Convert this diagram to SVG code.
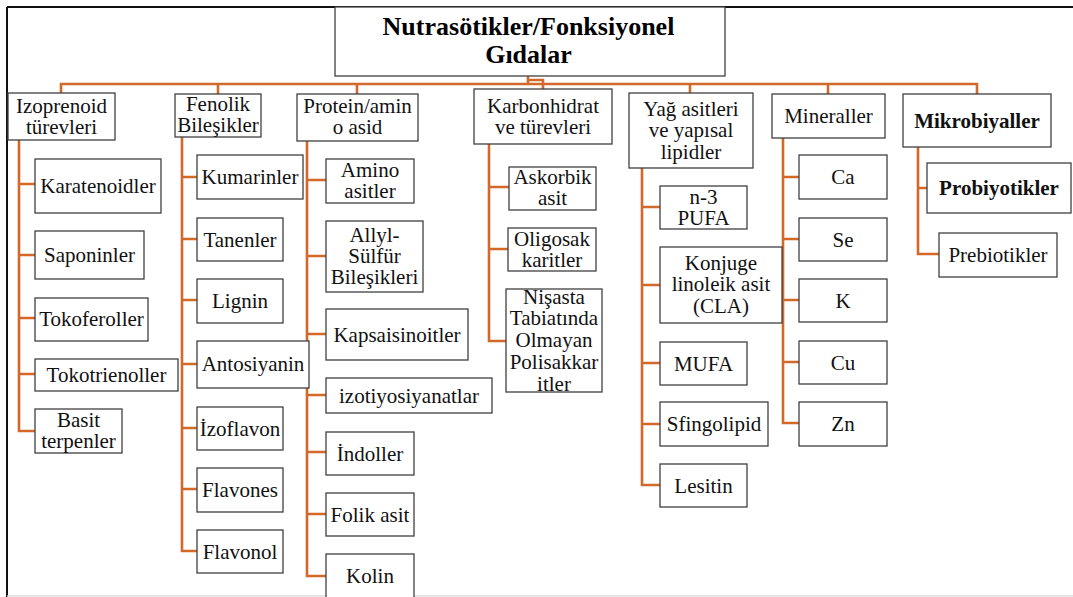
<svg xmlns="http://www.w3.org/2000/svg" width="1073" height="597" viewBox="0 0 1073 597">
<style>
.b{fill:#fff;stroke:#404040;stroke-width:1.3}
text{font-family:'Liberation Serif','Times New Roman',Times,serif}
.t{font-size:21px;fill:#111;text-anchor:middle}
.bd{font-weight:bold}
.ttl{font-size:26px;font-weight:bold;fill:#000;text-anchor:middle}
.c{fill:none;stroke:#D2692A;stroke-width:2.6}
</style>
<rect x="0" y="0" width="1073" height="597" fill="#fff"/>
<line x1="7" y1="7" x2="1073" y2="7" stroke="#111" stroke-width="2"/>
<line x1="7" y1="7" x2="7" y2="597" stroke="#111" stroke-width="2"/>
<line x1="7" y1="596" x2="1073" y2="596" stroke="#ddd" stroke-width="1.5"/>

<g id="connectors">
<path class="c" d="M61,93 V84 H977 V94"/>
<path class="c" d="M218,84 V94 M357,84 V94 M690,84 V93 M828,84 V94"/>
<path class="c" d="M528,76 V84 M528,80 H543 V89"/>
<path class="c" d="M19,140 V431 H35 M19,184 H35 M19,255 H35 M19,318 H35 M19,374 H35"/>
<path class="c" d="M182,137 V551 H197 M182,177 H197 M182,239 H197 M182,300 H197 M182,364 H197 M182,428 H197 M182,489 H197"/>
<path class="c" d="M307,141 V576 H326 M307,180 H326 M307,256 H326 M307,334 H326 M307,395 H326 M307,452 H326 M307,514 H326"/>
<path class="c" d="M489,144 V341 H506 M489,187 H509 M489,249 H508"/>
<path class="c" d="M642,168 V485 H660 M642,207 H660 M642,285 H660 M642,363 H660 M642,424 H660"/>
<path class="c" d="M783,138 V423 H799 M783,177 H799 M783,239 H799 M783,300 H799 M783,362 H799"/>
<path class="c" d="M918,147 V254 H939 M918,188 H927"/>
</g>

<g id="title"><rect class="b" x="335" y="7" width="390" height="69"/>
<text class="ttl"><tspan x="528.5" y="35">Nutrasötikler/Fonksiyonel</tspan><tspan x="528.5" y="63">Gıdalar</tspan></text></g>

<g id="izoprenoid"><rect class="b" x="8" y="93" width="107" height="47"/>
<text class="t"><tspan x="61.5" y="113">Izoprenoid</tspan><tspan x="61.5" y="134">türevleri</tspan></text></g>
<g id="fenolik"><rect class="b" x="175" y="94" width="86" height="43"/>
<text class="t"><tspan x="218" y="111">Fenolik</tspan><tspan x="218" y="132">Bileşikler</tspan></text></g>
<g id="protein"><rect class="b" x="297" y="94" width="121" height="47"/>
<text class="t"><tspan x="357.5" y="113">Protein/amin</tspan><tspan x="357.5" y="134">o asid</tspan></text></g>
<g id="karbonhidrat"><rect class="b" x="474" y="89" width="138" height="55"/>
<text class="t"><tspan x="543" y="112.5">Karbonhidrat</tspan><tspan x="543" y="133.5">ve türevleri</tspan></text></g>
<g id="yag"><rect class="b" x="629" y="93" width="124" height="75"/>
<text class="t"><tspan x="691" y="115.5">Yağ asitleri</tspan><tspan x="691" y="137">ve yapısal</tspan><tspan x="691" y="158.5">lipidler</tspan></text></g>
<g id="mineraller"><rect class="b" x="772" y="94" width="113" height="44"/>
<text class="t" x="828.5" y="122.5">Mineraller</text></g>
<g id="mikrobiyaller"><rect class="b" x="903" y="94" width="148" height="53"/>
<text class="t bd" x="977" y="127.5">Mikrobiyaller</text></g>

<g id="karatenoidler"><rect class="b" x="35" y="159" width="126" height="54"/><text class="t" x="98" y="192.5">Karatenoidler</text></g>
<g id="saponinler"><rect class="b" x="35" y="231" width="109" height="48"/><text class="t" x="89.5" y="262">Saponinler</text></g>
<g id="tokoferoller"><rect class="b" x="35" y="298" width="113" height="43"/><text class="t" x="91.5" y="326">Tokoferoller</text></g>
<g id="tokotrienoller"><rect class="b" x="35" y="359" width="143" height="32"/><text class="t" x="106.5" y="382">Tokotrienoller</text></g>
<g id="basit"><rect class="b" x="35" y="409" width="87" height="44"/><text class="t"><tspan x="78.5" y="427">Basit</tspan><tspan x="78.5" y="448">terpenler</tspan></text></g>

<g id="kumarinler"><rect class="b" x="197" y="155" width="106" height="44"/><text class="t" x="250" y="184">Kumarinler</text></g>
<g id="tanenler"><rect class="b" x="197" y="218" width="86" height="43"/><text class="t" x="240" y="246.5">Tanenler</text></g>
<g id="lignin"><rect class="b" x="197" y="279" width="86" height="44"/><text class="t" x="240" y="307.5">Lignin</text></g>
<g id="antosiyanin"><rect class="b" x="197" y="341" width="112" height="47"/><text class="t" x="253" y="371">Antosiyanin</text></g>
<g id="izoflavon"><rect class="b" x="197" y="407" width="86" height="43"/><text class="t" x="240" y="435.5">İzoflavon</text></g>
<g id="flavones"><rect class="b" x="197" y="468" width="86" height="44"/><text class="t" x="240" y="497">Flavones</text></g>
<g id="flavonol"><rect class="b" x="197" y="530" width="86" height="43"/><text class="t" x="240" y="558.5">Flavonol</text></g>

<g id="amino"><rect class="b" x="326" y="159" width="88" height="44"/><text class="t"><tspan x="370" y="177">Amino</tspan><tspan x="370" y="198">asitler</tspan></text></g>
<g id="allyl"><rect class="b" x="326" y="221" width="97" height="71"/><text class="t"><tspan x="374.5" y="242">Allyl-</tspan><tspan x="374.5" y="263">Sülfür</tspan><tspan x="374.5" y="284">Bileşikleri</tspan></text></g>
<g id="kapsaisinoitler"><rect class="b" x="326" y="309" width="142" height="51"/><text class="t" x="397" y="341.5">Kapsaisinoitler</text></g>
<g id="izotiyosiyanatlar"><rect class="b" x="326" y="378" width="166" height="35"/><text class="t" x="409" y="402.5">izotiyosiyanatlar</text></g>
<g id="indoller"><rect class="b" x="326" y="432" width="88" height="43"/><text class="t" x="370" y="460.5">İndoller</text></g>
<g id="folik"><rect class="b" x="326" y="493" width="88" height="43"/><text class="t" x="370" y="521.5">Folik asit</text></g>
<g id="kolin"><rect class="b" x="326" y="554" width="88" height="50"/><text class="t" x="370" y="583">Kolin</text></g>

<g id="askorbik"><rect class="b" x="509" y="167" width="87" height="43"/><text class="t"><tspan x="552.5" y="184">Askorbik</tspan><tspan x="552.5" y="205">asit</tspan></text></g>
<g id="oligosakkaritler"><rect class="b" x="508" y="228" width="88" height="43"/><text class="t"><tspan x="552" y="245.5">Oligosak</tspan><tspan x="552" y="266.5">karitler</tspan></text></g>
<g id="nisasta"><rect class="b" x="506" y="289" width="96" height="103"/>
<text class="t"><tspan x="554" y="303.5">Nişasta</tspan><tspan x="554" y="325">Tabiatında</tspan><tspan x="554" y="347">Olmayan</tspan><tspan x="554" y="369">Polisakkar</tspan><tspan x="554" y="390.5">itler</tspan></text></g>

<g id="n3pufa"><rect class="b" x="660" y="186" width="87" height="43"/><text class="t"><tspan x="703.5" y="203.5">n-3</tspan><tspan x="703.5" y="224.5">PUFA</tspan></text></g>
<g id="cla"><rect class="b" x="660" y="247" width="122" height="76"/><text class="t"><tspan x="721" y="269.5">Konjuge</tspan><tspan x="721" y="291">linoleik asit</tspan><tspan x="721" y="313">(CLA)</tspan></text></g>
<g id="mufa"><rect class="b" x="660" y="342" width="87" height="43"/><text class="t" x="703.5" y="370.5">MUFA</text></g>
<g id="sfingolipid"><rect class="b" x="660" y="402" width="108" height="44"/><text class="t" x="714" y="431">Sfingolipid</text></g>
<g id="lesitin"><rect class="b" x="660" y="464" width="87" height="43"/><text class="t" x="703.5" y="492.5">Lesitin</text></g>

<g id="ca"><rect class="b" x="799" y="155" width="88" height="44"/><text class="t" x="843" y="184">Ca</text></g>
<g id="se"><rect class="b" x="799" y="218" width="88" height="43"/><text class="t" x="843" y="246.5">Se</text></g>
<g id="k"><rect class="b" x="799" y="279" width="88" height="43"/><text class="t" x="843" y="307.5">K</text></g>
<g id="cu"><rect class="b" x="799" y="341" width="88" height="43"/><text class="t" x="843" y="369.5">Cu</text></g>
<g id="zn"><rect class="b" x="799" y="402" width="88" height="44"/><text class="t" x="843" y="431">Zn</text></g>

<g id="probiyotikler"><rect class="b" x="927" y="163" width="144" height="50"/><text class="t bd" x="999" y="195">Probiyotikler</text></g>
<g id="prebiotikler"><rect class="b" x="939" y="233" width="118" height="44"/><text class="t" x="998" y="262">Prebiotikler</text></g>
</svg>
